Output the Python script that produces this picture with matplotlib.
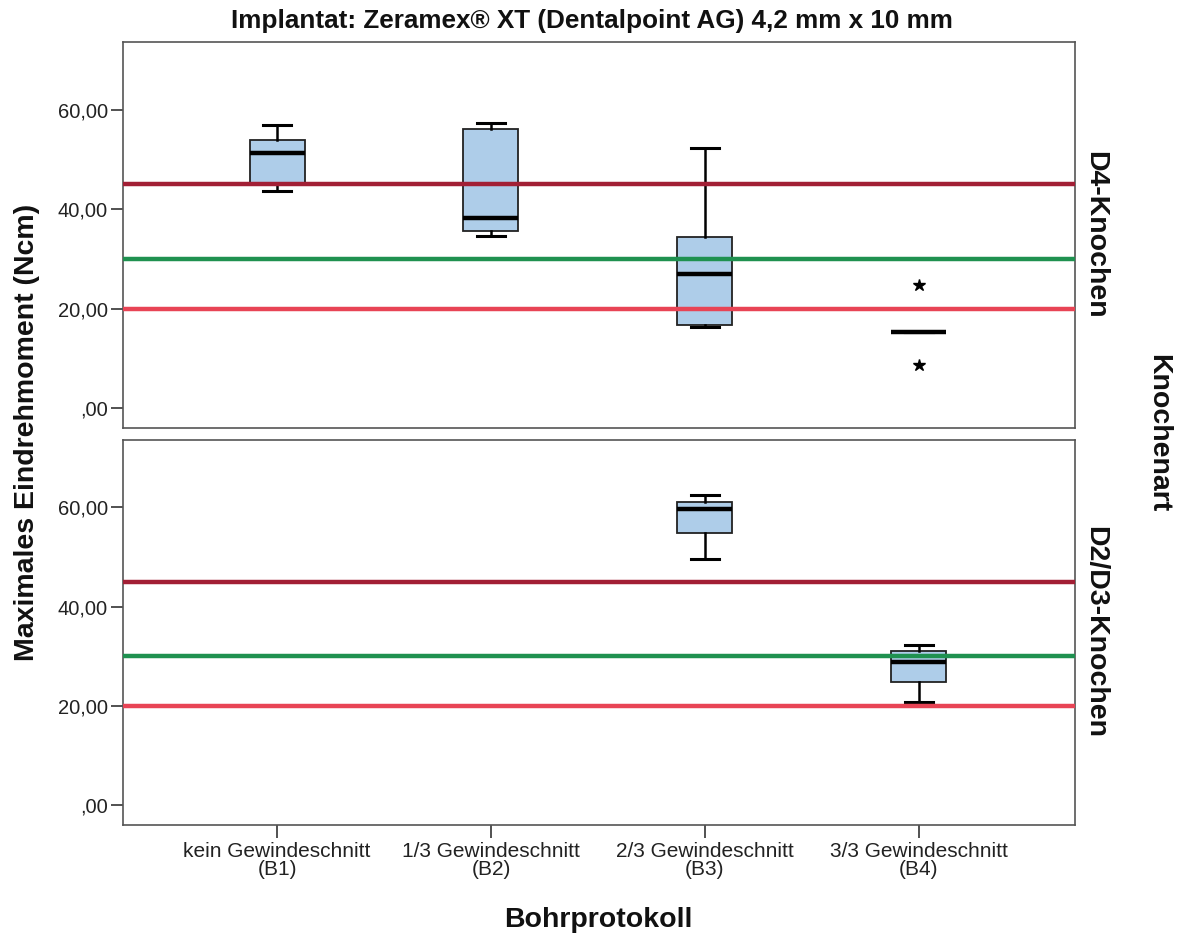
import matplotlib
matplotlib.use("Agg")
import matplotlib.pyplot as plt

plt.rcParams['font.family'] = ['Liberation Sans', 'DejaVu Sans']

categories = ["kein Gewindeschnitt\n(B1)", "1/3 Gewindeschnitt\n(B2)",
              "2/3 Gewindeschnitt\n(B3)", "3/3 Gewindeschnitt\n(B4)"]
panels = ["D4-Knochen", "D2/D3-Knochen"]

# five-number summaries per panel: [whislo, q1, med, q3, whishi], None = no data
d4_stats = [
    [43.7, 45.3, 51.2, 53.8, 56.9],
    [34.6, 35.7, 38.2, 56.1, 57.4],
    [16.4, 16.7, 26.9, 34.3, 52.3],
    [15.2, 15.2, 15.2, 15.2, 15.2],
]
d4_fliers = [[], [], [], [24.7, 8.6]]
d23_stats = [
    None,
    None,
    [49.7, 54.8, 59.7, 61.1, 62.5],
    [20.7, 24.8, 28.9, 31.1, 32.3],
]
d23_fliers = [[], [], [], []]

ref_values = [45, 30, 20]
ref_colors = ["#a21f35", "#1f9150", "#e84455"]

yticks = [0, 20, 40, 60]
ytick_labels = [",00", "20,00", "40,00", "60,00"]

W, H = 1177, 933
fig = plt.figure(figsize=(W / 100, H / 100), dpi=100)

left, right = 123 / W, 1075 / W
ax_top = fig.add_axes([left, 1 - 428 / H, right - left, (428 - 42) / H])
ax_bot = fig.add_axes([left, 1 - 825 / H, right - left, (825 - 440) / H])

box_face = "#aecde9"

def draw(ax, stats, fliers):
    bxp_stats = []
    pos = []
    for i, s in enumerate(stats):
        if s is None:
            continue
        bxp_stats.append(dict(whislo=s[0], q1=s[1], med=s[2], q3=s[3], whishi=s[4],
                              fliers=fliers[i]))
        pos.append(i)
    ax.bxp(bxp_stats, positions=pos, widths=0.257, patch_artist=True,
           showfliers=True,
           boxprops=dict(facecolor=box_face, edgecolor="#222222", linewidth=1.3),
           medianprops=dict(color="black", linewidth=3.2, solid_capstyle="butt"),
           whiskerprops=dict(color="black", linewidth=1.8),
           capprops=dict(color="black", linewidth=2.2),
           capwidths=0.13,
           flierprops=dict(marker="*", markerfacecolor="black", markeredgecolor="black",
                           markersize=9, linestyle="none"),
           zorder=3)
    for v, c in zip(ref_values, ref_colors):
        ax.axhline(v, color=c, linewidth=3.2, zorder=4)
    ax.set_xlim(-0.72, 3.73)
    ax.set_ylim(-4.0, 73.6)
    ax.set_yticks(yticks)
    ax.set_yticklabels(ytick_labels)
    for sp in ax.spines.values():
        sp.set_color("#555555")
        sp.set_linewidth(1.2)
    ax.tick_params(axis="y", direction="out", length=9, width=1.2, color="#333333",
                   labelsize=14.5, labelcolor="#222222", pad=2)

draw(ax_top, d4_stats, d4_fliers)
draw(ax_bot, d23_stats, d23_fliers)

ax_top.set_xticks([])
ax_bot.set_xticks(range(len(categories)))
ax_bot.set_xticklabels(categories, fontsize=15, linespacing=0.9, color="#222222")
ax_bot.tick_params(axis="x", direction="out", length=9.5, width=1.2, color="#333333", pad=3)

bold = dict(fontsize=20.5, fontweight="bold", color="#111111")
for ax, name in zip([ax_top, ax_bot], panels):
    ax.text(1.008, 0.5, name, transform=ax.transAxes, rotation=-90, ha="left", va="center",
            **bold)

fig.text(1158 / W, 1 - 433 / H, "Knochenart", rotation=-90, ha="center", va="center", **bold)
fig.text(27 / W, 1 - 432 / H, "Maximales Eindrehmoment (Ncm)", rotation=90, ha="center",
         va="center", **bold)
fig.text(598 / W, 1 - 927 / H, "Bohrprotokoll", ha="center", va="baseline", **bold)
fig.text(592 / W, 1 - 28 / H, "Implantat: Zeramex\u00ae XT (Dentalpoint AG) 4,2 mm x 10 mm",
         ha="center", va="baseline", fontsize=18.8, fontweight="bold", color="#111111")

fig.savefig("out.png", dpi=100, facecolor="white")
